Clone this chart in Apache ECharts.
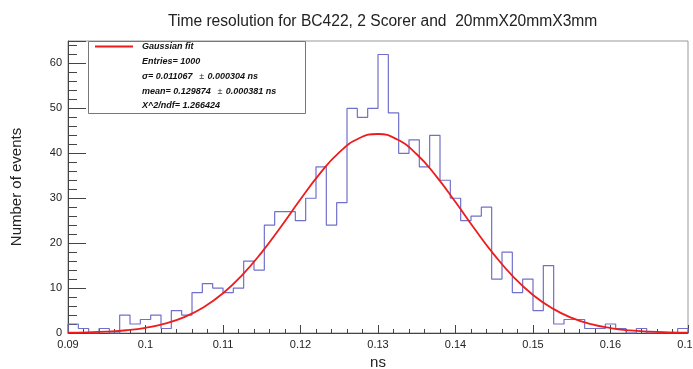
<!DOCTYPE html>
<html>
<head>
<meta charset="utf-8">
<script src="https://cdn.jsdelivr.net/npm/echarts@6/dist/echarts.min.js"></script>
<style>html,body{margin:0;padding:0;background:#fff;}#c{width:693px;height:369px;}</style>
</head>
<body>
<div id="c"></div>
<script>
// Histogram: 60 bins from 0.09 to 0.17 ns
const binMin = 0.09;
const binMax = 0.17;
const counts = [2,1,0,1,0,4,2,3,4,1,
                5,4,9,11,10,9,10,16,14,24,
                27,27,25,30,37,24,29,50,48,50,
                62,49,40,43,37,44,34,30,25,26,
                28,12,18,9,12,5,15,2,3,3,
                1,1,2,1,0,1,0,0,0,1];
// Gaussian fit curve
const fitX = [0.09,0.0925,0.095,0.0975,0.1,0.1025,0.105,0.1075,0.11,0.1125,0.115,0.1175,0.12,0.1225,0.125,0.1275,0.13,
              0.1325,0.135,0.1375,0.14,0.1425,0.145,0.1475,0.15,0.1525,0.155,0.1575,0.16,0.1625,0.165,0.1675,0.17];
const fitY = [0.07,0.15,0.31,0.61,1.16,2.08,3.55,5.75,8.85,12.94,17.96,23.71,29.76,35.49,40.21,43.30,44.30,
              43.06,39.79,34.93,29.14,23.09,17.40,12.45,8.47,5.48,3.36,1.96,1.09,0.57,0.29,0.14,0.06];
const titleText = 'Time resolution for BC422, 2 Scorer and  20mmX20mmX3mm';
const statLines = [
  ['Entries= 1000'],
  ['\u03c3= 0.011067', '0.000304 ns'],
  ['mean= 0.129874', '0.000381 ns'],
  ['\u03a7^2/ndf= 1.266424']
];

const w = (binMax - binMin) / counts.length;
const histData = [[binMin, 0]];
counts.forEach((c, i) => histData.push([binMin + i * w, c]));
histData.push([binMax, counts[counts.length - 1]]);
histData.push([binMax, 0]);
const fitData = fitX.map((x, i) => [x, fitY[i]]);

const FONT = '"Liberation Sans", Arial, Helvetica, sans-serif';
const statFont = 'italic bold 9px ' + FONT;
const graphics = [{
  type: 'rect', shape: {x: 88.5, y: 41.5, width: 217, height: 72},
  style: {fill: '#fff', stroke: '#777', lineWidth: 1}, z: 10
}];
const ys = [62, 77, 92, 106];
statLines.forEach((parts, i) => {
  let txt = '{b|' + parts[0] + '}';
  if (parts.length > 1) txt += '  {n|\u00b1} {b|' + parts[1] + '}';
  graphics.push({
    type: 'text', z: 11,
    style: {
      x: 142, y: ys[i], text: txt, textVerticalAlign: 'middle',
      rich: {
        b: {font: statFont, fill: '#111'},
        n: {font: '9px ' + FONT, fill: '#333'}
      }
    }
  });
});

const chart = echarts.init(document.getElementById('c'), null, {renderer: 'canvas'});
chart.setOption({
  animation: false,
  backgroundColor: '#fff',
  title: {
    text: titleText, left: 163, top: 9,
    textStyle: {fontFamily: FONT, fontSize: 15.6, fontWeight: 'normal', color: '#222'}
  },
  legend: {
    data: ['Gaussian fit'], left: 95, top: 42, padding: 0,
    icon: 'rect', itemWidth: 38, itemHeight: 2, z: 12,
    textStyle: {fontFamily: FONT, fontSize: 9, fontStyle: 'italic', fontWeight: 'bold', color: '#111', padding: [0, 0, 0, 4]}
  },
  grid: {left: 68, right: 5, top: 41, bottom: 36, show: true, borderColor: '#999', borderWidth: 1, outerBoundsMode: 'none', containLabel: false},
  xAxis: {
    type: 'value', min: binMin, max: binMax, interval: 0.01,
    name: 'ns', nameLocation: 'middle', nameGap: 18,
    nameTextStyle: {fontFamily: FONT, fontSize: 15, color: '#222'},
    axisLine: {lineStyle: {color: '#444'}},
    axisTick: {inside: true, length: 8, lineStyle: {color: '#444'}},
    minorTick: {show: true, splitNumber: 5, length: 4, lineStyle: {color: '#444'}},
    splitLine: {show: false},
    axisLabel: {fontFamily: FONT, fontSize: 11, color: '#222', margin: 6,
      formatter: v => String(parseFloat(v.toFixed(3)))}
  },
  yAxis: {
    type: 'value', min: 0, max: 65, interval: 10,
    name: 'Number of events', nameLocation: 'middle', nameGap: 44, nameRotate: 90,
    nameTextStyle: {fontFamily: FONT, fontSize: 15, color: '#222'},
    axisLine: {show: true, lineStyle: {color: '#444'}},
    axisTick: {inside: true, length: 18, lineStyle: {color: '#444'}},
    minorTick: {show: true, splitNumber: 5, length: 9, lineStyle: {color: '#444'}},
    splitLine: {show: false},
    axisLabel: {fontFamily: FONT, fontSize: 11, color: '#222', margin: 6,
      formatter: v => (v > 60 ? '' : String(v))}
  },
  graphic: graphics,
  series: [
    {
      name: 'histogram', type: 'line', step: 'end', data: histData,
      symbol: 'none', lineStyle: {color: '#7070cc', width: 1.2}, z: 2, silent: true
    },
    {
      name: 'Gaussian fit', type: 'line', smooth: true, data: fitData,
      symbol: 'none', itemStyle: {color: '#ee1c1c'}, lineStyle: {color: '#ee1c1c', width: 1.8}, z: 3
    }
  ]
});
</script>
</body>
</html>
